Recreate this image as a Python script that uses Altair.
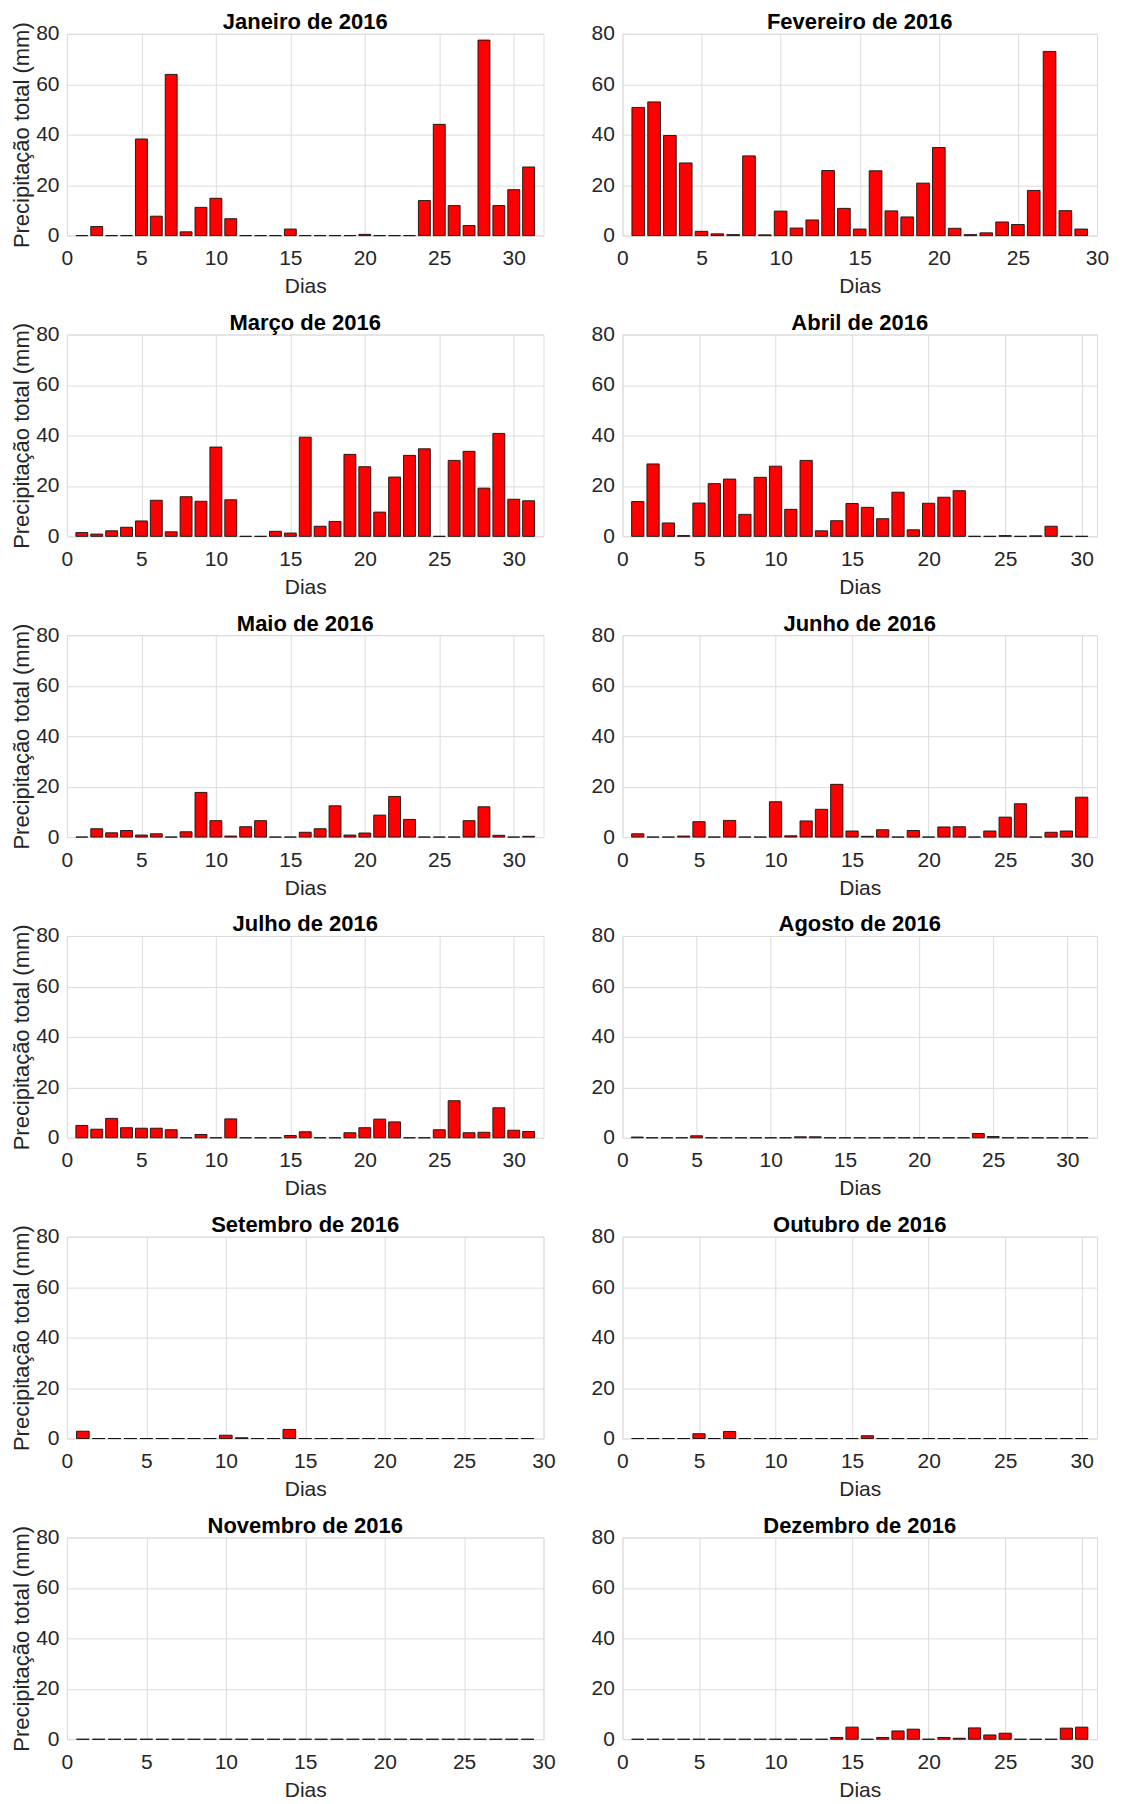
import altair as alt
import pandas as pd

months = ["Janeiro", "Fevereiro", "Março", "Abril", "Maio", "Junho",
          "Julho", "Agosto", "Setembro", "Outubro", "Novembro", "Dezembro"]

jan = [0, 3.6, 0, 0, 38.3, 7.7, 63.9, 1.5, 11.2, 14.8, 6.7, 0, 0, 0, 2.6, 0,
       0, 0, 0, 0.5, 0, 0, 0, 13.9, 44.1, 11.9, 4.0, 77.5, 11.9, 18.2, 27.2]
feb = [50.8, 53.0, 39.7, 28.8, 1.7, 0.7, 0.4, 31.6, 0.3, 9.7, 3.0, 6.2, 25.8,
       10.8, 2.6, 25.7, 9.8, 7.4, 20.8, 34.9, 2.9, 0.4, 1.1, 5.4, 4.4, 17.9,
       73.0, 9.9, 2.6]
mar = [1.5, 0.9, 2.2, 3.6, 6.1, 14.3, 1.8, 15.7, 13.9, 35.4, 14.5, 0, 0, 2.0,
       1.3, 39.3, 4.0, 5.9, 32.5, 27.6, 9.6, 23.5, 32.1, 34.7, 0, 30.1, 33.7,
       19.1, 40.8, 14.7, 14.1]
apr = [13.8, 28.7, 5.3, 0.3, 13.2, 20.9, 22.7, 8.7, 23.4, 27.8, 10.7, 30.1,
       2.2, 6.2, 13.0, 11.5, 7.0, 17.5, 2.6, 13.1, 15.5, 18.1, 0, 0, 0.3, 0,
       0.2, 4.0, 0, 0]
may = [0, 3.3, 1.7, 2.6, 0.8, 1.3, 0, 2.1, 17.7, 6.5, 0.4, 4.1, 6.5, 0, 0, 1.9,
       3.3, 12.4, 0.8, 1.6, 8.7, 16.1, 7.0, 0, 0, 0, 6.5, 12.0, 0.7, 0, 0.3]
jun = [1.3, 0, 0, 0.4, 6.1, 0, 6.6, 0, 0, 14.0, 0.5, 6.4, 11.0, 20.9, 2.4, 0.3,
       2.9, 0, 2.6, 0, 4.0, 4.1, 0, 2.4, 7.9, 13.2, 0, 1.9, 2.4, 15.8]
jul = [4.9, 3.4, 7.7, 4.0, 3.8, 3.8, 3.2, 0, 1.3, 0, 7.5, 0, 0, 0, 0.9, 2.4, 0,
       0, 2.0, 4.0, 7.4, 6.3, 0, 0, 3.2, 14.7, 2.0, 2.2, 11.9, 3.0, 2.5]
aug = [0.3, 0, 0, 0, 0.8, 0, 0, 0, 0, 0, 0, 0.4, 0.4, 0, 0, 0, 0, 0, 0, 0, 0,
       0, 0, 1.7, 0.5, 0, 0, 0, 0, 0, 0]
sep = [2.9, 0, 0, 0, 0, 0, 0, 0, 0, 1.3, 0.3, 0, 0, 3.6, 0, 0, 0, 0, 0, 0, 0,
       0, 0, 0, 0, 0, 0, 0, 0]
oct_ = [0, 0, 0, 0, 1.9, 0, 2.8, 0, 0, 0, 0, 0, 0, 0, 0, 1.1, 0, 0, 0, 0, 0, 0,
        0, 0, 0, 0, 0, 0, 0, 0]
nov = [0, 0, 0, 0, 0, 0, 0, 0, 0, 0, 0, 0, 0, 0, 0, 0, 0, 0, 0, 0, 0, 0, 0, 0,
       0, 0, 0, 0, 0]
dec = [0, 0, 0, 0, 0, 0, 0, 0, 0, 0, 0, 0, 0, 0.7, 4.8, 0, 0.7, 3.3, 4.0, 0,
       0.7, 0.4, 4.5, 1.7, 2.4, 0, 0, 0, 4.4, 4.8]

series = [jan, feb, mar, apr, may, jun, jul, aug, sep, oct_, nov, dec]
x_max = [32, 30, 32, 31, 32, 31, 32, 32, 30, 31, 30, 31]
x_ticks = [0, 5, 10, 15, 20, 25, 30]
y_ticks = [0, 20, 40, 60, 80]

FONT = "Liberation Sans"
TXT = "#262626"


def panel(i):
    left = (i % 2 == 0)
    vals = series[i]
    df = pd.DataFrame({"dia": list(range(1, len(vals) + 1)), "prec": vals})
    yaxis = dict(values=y_ticks, labelFontSize=21, labelColor=TXT, labelFont=FONT,
                 labelPadding=8, ticks=False, domain=False, gridColor="#dcdcdc",
                 gridWidth=1)
    if left:
        yaxis.update(title="Precipitação total (mm)", titleFontSize=22,
                     titleColor=TXT, titleFont=FONT, titleFontWeight="normal",
                     titlePadding=2)
    else:
        yaxis.update(title=None)
    w = 477 if left else 475
    return (
        alt.Chart(df)
        .transform_calculate(x0="datum.dia - 0.4", x1="datum.dia + 0.4")
        .mark_rect(fill="#ff0000", stroke="#111111", strokeWidth=0.9)
        .encode(
            x=alt.X("x0:Q",
                    scale=alt.Scale(domain=[0, x_max[i]], nice=False, zero=False),
                    axis=alt.Axis(values=x_ticks, title="Dias", labelFontSize=21,
                                  labelColor=TXT, labelFont=FONT, labelPadding=12,
                                  titleFontSize=21, titleColor=TXT, titleFont=FONT,
                                  titleFontWeight="normal", titlePadding=7,
                                  ticks=False, domain=False, labelFlush=False,
                                  gridColor="#dcdcdc", gridWidth=1)),
            x2="x1:Q",
            y=alt.Y("prec:Q", scale=alt.Scale(domain=[0, 80], nice=False),
                    axis=alt.Axis(**yaxis)),
            y2=alt.datum(0),
        )
        .properties(
            width=w, height=202,
            title=alt.TitleParams(f"{months[i]} de 2016", fontSize=22,
                                  fontWeight="bold", font=FONT, color="#000000",
                                  anchor="middle", frame="group",
                                  baseline="alphabetic",
                                  offset=-29.5 if left else -28.5),
        )
    )


chart = (
    alt.concat(*[panel(i) for i in range(12)], columns=2,
               spacing={"row": 99, "column": 79}, bounds="flush", align="each")
    .properties(padding={"left": 2, "top": 1, "right": 5, "bottom": 5})
    .configure_view(stroke=TXT, strokeWidth=1)
    .configure(background="white")
)

chart.save("out.html", embed_options={"renderer": "svg", "actions": False})
